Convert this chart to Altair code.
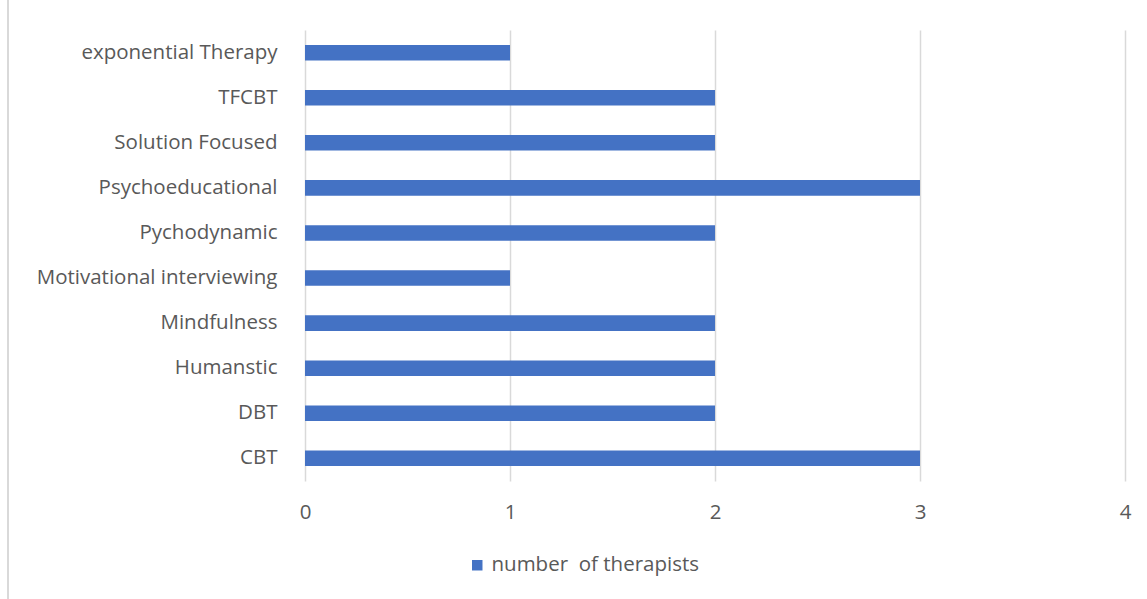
import altair as alt
import pandas as pd

categories = ["exponential Therapy", "TFCBT", "Solution Focused", "Psychoeducational",
              "Pychodynamic", "Motivational interviewing", "Mindfulness", "Humanstic",
              "DBT", "CBT"]
values = [1, 2, 2, 3, 2, 1, 2, 2, 2, 3]
series = "number\u00a0 of therapists"
x_ticks = [0, 1, 2, 3, 4]

df = pd.DataFrame({"therapy": categories, "count": values, "series": [series] * len(values)})

FONT = "Open Sans"
GREY = "#595959"
FS = 20.5

bars = alt.Chart(df).mark_bar(color="#4472C4").encode(
    y=alt.Y("therapy:N", sort=categories,
            scale=alt.Scale(paddingInner=0.655, paddingOuter=0.33),
            axis=alt.Axis(title=None, domain=False, ticks=False, grid=False,
                          labelFont=FONT, labelFontSize=FS, labelColor=GREY,
                          labelPadding=28, labelLimit=400)),
    x=alt.X("count:Q", scale=alt.Scale(domain=[0, 4], nice=False),
            axis=alt.Axis(title=None, values=x_ticks, domain=False, ticks=False,
                          grid=True, gridColor="#d9d9d9", gridWidth=1.5,
                          labelFont=FONT, labelFontSize=FS, labelColor=GREY,
                          labelPadding=21, labelFlush=False, format="d")),
    color=alt.Color("series:N", scale=alt.Scale(range=["#4472C4"]),
                    legend=alt.Legend(title=None, orient="none", legendX=162, legendY=525,
                                      symbolType="square", symbolSize=110,
                                      labelFont=FONT, labelFontSize=FS, labelColor=GREY,
                                      labelLimit=400, symbolStrokeWidth=0)),
)

border = alt.Chart(df).mark_rule(color="#d9d9d9", strokeWidth=2).encode(
    x=alt.value(-297), y=alt.value(-30), y2=alt.value(569)
)

chart = alt.layer(border, bars).properties(
    width=820, height=451,
    view=alt.ViewBackground(stroke="transparent", strokeWidth=0),
    padding={"left": 305, "top": 30, "right": 22, "bottom": 118},
    autosize=alt.AutoSizeParams(type="none"),
).configure_view(strokeWidth=0, stroke="transparent").configure(background="white")

chart.save("out.html", embed_options={"renderer": "svg", "actions": False})
